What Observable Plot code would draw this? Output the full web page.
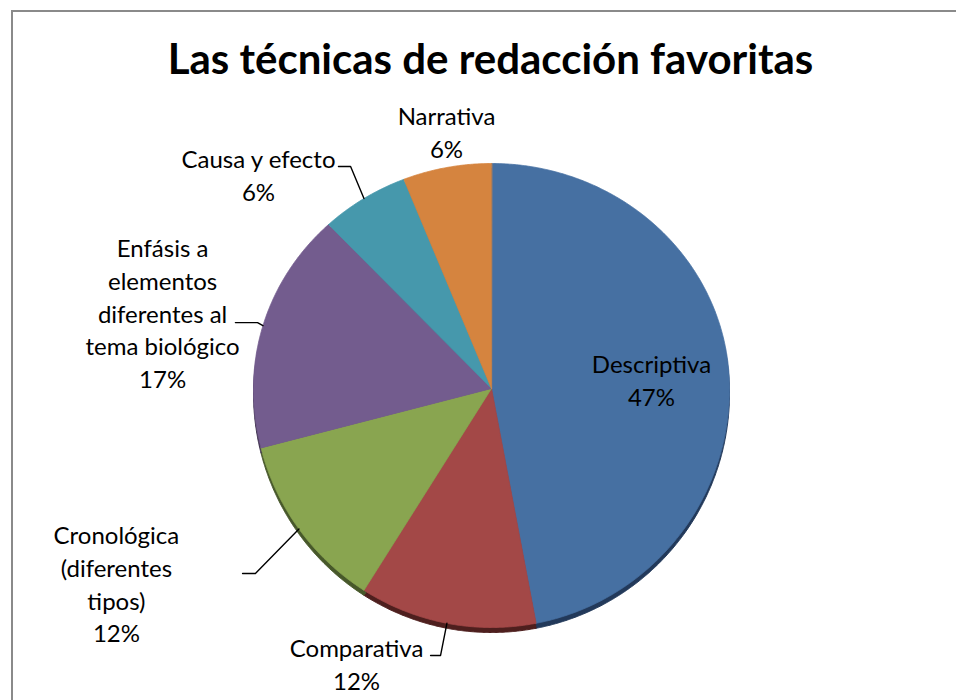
<!DOCTYPE html>
<html><head><meta charset="utf-8">
<script src="https://cdn.jsdelivr.net/npm/d3@7"></script>
<script src="https://cdn.jsdelivr.net/npm/@observablehq/plot@0.6"></script>
<style>
body{margin:0;background:#fff;}
#wrap{position:relative;width:956px;height:700px;overflow:hidden;}
#frame{position:absolute;left:11px;top:10px;width:1000px;height:1000px;border-left:2px solid #8a8a8a;border-top:2px solid #8a8a8a;}
#chart{position:absolute;left:0;top:0;}
</style></head><body>
<div id="wrap"><div id="frame"></div><div id="chart"></div></div>
<script>
// ---- data ----
const chartTitle = "Las técnicas de redacción favoritas";
const categories = ["Descriptiva", "Comparativa", "Cronológica (diferentes tipos)", "Enfásis a elementos diferentes al tema biológico", "Causa y efecto", "Narrativa"];
const values = [47, 12, 12, 17, 6, 6];
const labelTexts = ["Descriptiva", "Comparativa", "Cronológica\n(diferentes\ntipos)", "Enfásis a\nelementos\ndiferentes al\ntema biológico", "Causa y efecto", "Narrativa"];

// ---- styles / layout ----
const topColors = ["#4670a2", "#a34847", "#89a550", "#735c8e", "#4698ac", "#d5843f"];
const sideColors = ["#22395a", "#4e1f1e", "#47582a", "#3c2f4c", "#22505c", "#6e4220"];
// label block centres in normalised pie units (0,0 = centre, ±1 = rim)
const labelX = [0.672, -0.567, -1.576, -1.382, -0.979, -0.189];
const labelY = [0.042, -1.15, -0.812, 0.34, 0.955, 1.145];
// leader lines: elbow and end, normalised units (null = no leader)
const leaderElbow = [null, [-0.214, -1.117], [-0.992, -0.774], [-0.983, 0.293], [-0.592, 0.987], null];
const leaderEnd = [null, [-0.256, -1.117], [-1.046, -0.774], [-1.076, 0.293], [-0.643, 0.987], null];

const arcs = d3.pie().sort(null).startAngle(0).endAngle(2 * Math.PI)(values);
const slices = [];
arcs.forEach((a, i) => {
  slices.push({name: categories[i], x: 0, y: 0, top: topColors[i], side: sideColors[i]});
  const n = Math.max(2, Math.ceil((a.endAngle - a.startAngle) / 0.005));
  for (let k = 0; k <= n; k++) {
    const t = a.startAngle + (a.endAngle - a.startAngle) * k / n;
    slices.push({name: categories[i], x: Math.sin(t), y: Math.cos(t), top: topColors[i], side: sideColors[i]});
  }
});

const labels = arcs.map((a, i) => ({
  x: labelX[i], y: labelY[i], text: labelTexts[i] + "\n" + values[i] + "%"
}));

const leaders = [];
arcs.forEach((a, i) => {
  if (!leaderElbow[i]) return;
  const mid = (a.startAngle + a.endAngle) / 2;
  leaders.push({name: categories[i], x: Math.sin(mid), y: Math.cos(mid)});
  leaders.push({name: categories[i], x: leaderElbow[i][0], y: leaderElbow[i][1]});
  leaders.push({name: categories[i], x: leaderEnd[i][0], y: leaderEnd[i][1]});
});

const chart = Plot.plot({
  width: 956, height: 700, margin: 0,
  style: {fontFamily: "Lato", background: "transparent"},
  x: {type: "linear", domain: [-1, 0, 1], range: [253, 491, 729], axis: null},
  y: {type: "linear", domain: [-1, 0, 1], range: [627, 388, 163], axis: null},
  color: {type: "identity"},
  marks: [
    Plot.line(slices, {x: "x", y: "y", z: "name", fill: "side", stroke: "side", strokeWidth: 1, curve: "linear-closed", dy: 5}),
    Plot.line(slices, {x: "x", y: "y", z: "name", fill: "top", stroke: "top", strokeWidth: 0.8, curve: "linear-closed"}),
    Plot.line(leaders, {x: "x", y: "y", z: "name", stroke: "#000", strokeWidth: 1.4}),
    Plot.text(labels, {x: "x", y: "y", text: "text", fontSize: 24, lineHeight: 1.37, fill: "#000", lineAnchor: "middle"}),
    Plot.text([chartTitle], {frameAnchor: "top", dx: 12, dy: 60, text: d => d, fontSize: 42, fontWeight: "bold", fill: "#000", lineAnchor: "middle"})
  ]
});
document.getElementById("chart").appendChild(chart);
</script>
</body></html>
